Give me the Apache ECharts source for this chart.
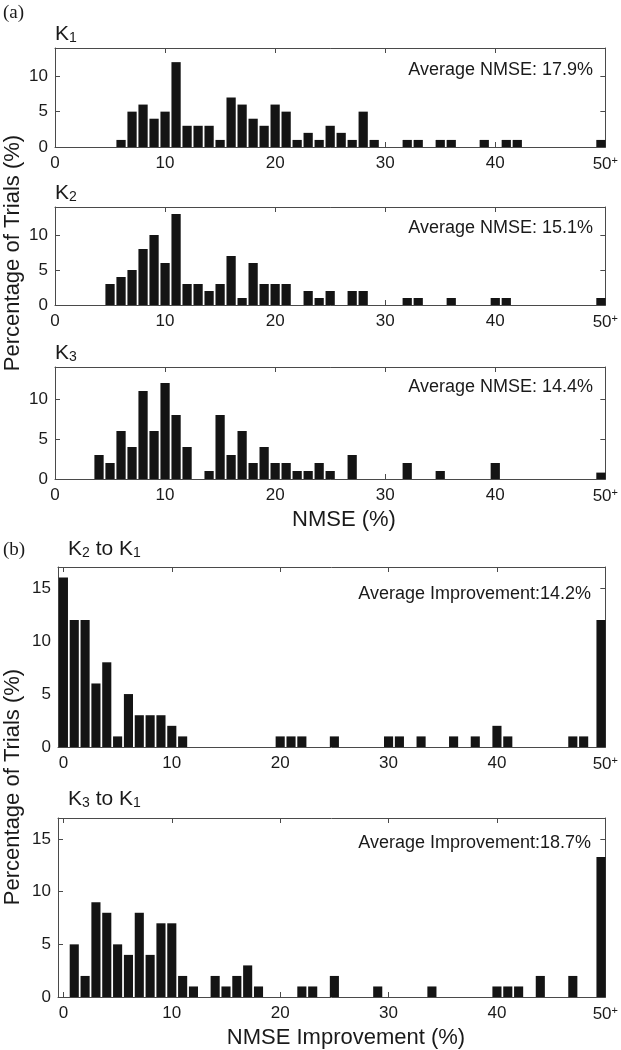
<!DOCTYPE html>
<html><head><meta charset="utf-8">
<script src="https://cdn.jsdelivr.net/npm/echarts@6/dist/echarts.min.js"></script>
<style>html,body{margin:0;padding:0;background:#fff}#c{width:621px;height:1050px}</style>
</head><body><div id="c"></div>
<script>
// ---------- data (bin = NMSE %, value = percentage of trials) ----------
const k1Bins = [6,7,8,9,10,11,12,13,14,15,16,17,18,19,20,21,22,23,24,25,26,27,28,29,32,33,35,36,39,41,42,'50+'];
const k1Vals = [1,5,6,4,5,12,3,3,3,1,7,6,4,3,6,5,1,2,1,3,2,1,5,1,1,1,1,1,1,1,1,1];

const k2Bins = [5,6,7,8,9,10,11,12,13,14,15,16,17,18,19,20,21,23,24,25,27,28,32,33,36,40,41,'50+'];
const k2Vals = [3,4,5,8,10,6,13,3,3,2,3,7,1,6,3,3,3,2,1,2,2,2,1,1,1,1,1,1];

const k3Bins = [4,5,6,7,8,9,10,11,12,14,15,16,17,18,19,20,21,22,23,24,25,27,32,35,40,'50+'];
const k3Vals = [3,2,6,4,11,6,12,8,4,1,8,3,6,2,4,2,2,1,1,2,1,3,2,1,2,0.8];

const k21Bins = [0,1,2,3,4,5,6,7,8,9,10,11,20,21,22,25,30,31,33,36,38,40,41,47,48,'50+'];
const k21Vals = [16,12,12,6,8,1,5,3,3,3,2,1,1,1,1,1,1,1,1,1,1,2,1,1,1,12];

const k31Bins = [1,2,3,4,5,6,7,8,9,10,11,12,14,15,16,17,18,22,23,25,29,34,40,41,42,44,47,'50+'];
const k31Vals = [5,2,9,8,5,4,8,4,7,7,2,1,2,1,2,3,1,1,1,2,1,1,1,1,1,2,2,13.3];

const xTicks = [0,10,20,30,40,50];
const yTicksA = [0,5,10];
const yTicksB = [0,5,10,15];
const overflowBin = 49.6;   // where the "50+" bin is drawn

const panelTitles = [['K','1'],['K','2'],['K','3'],['K','2',' to K','1'],['K','3',' to K','1']];
const avgTexts = ['Average NMSE: 17.9%','Average NMSE: 15.1%','Average NMSE: 14.4%',
                  'Average Improvement:14.2%','Average Improvement:18.7%'];

// ---------- layout ----------
const FONT = '"Liberation Sans", Arial, Helvetica, sans-serif';
const INK = '#1a1a1a';
const LINE = '#4a4a4a';
const grids = [
  {left:55, right:15, top:48, height:99},
  {left:55, right:15, top:207, height:98},
  {left:55, right:15, top:367, height:112},
  {left:58, right:12, top:567, height:180},
  {left:58, right:12, top:818, height:179}
];
const panels = [
  {bins:k1Bins, vals:k1Vals, xmin:0, ymax:14, yt:yTicksA},
  {bins:k2Bins, vals:k2Vals, xmin:0, ymax:14, yt:yTicksA},
  {bins:k3Bins, vals:k3Vals, xmin:0, ymax:14, yt:yTicksA},
  {bins:k21Bins, vals:k21Vals, xmin:-0.5, ymax:17, yt:yTicksB},
  {bins:k31Bins, vals:k31Vals, xmin:-0.5, ymax:17, yt:yTicksB}
];

const xAxes = [], yAxes = [], series = [];
panels.forEach((p, i) => {
  const common = {
    gridIndex:i, type:'value', min:p.xmin, max:50,
    axisLine:{show:true, onZero:false, lineStyle:{color:LINE, width:1}},
    axisTick:{show:true, inside:true, length:5, customValues:xTicks, lineStyle:{color:LINE}},
    splitLine:{show:false}
  };
  xAxes.push(Object.assign({}, common, {
    position:'bottom',
    axisLabel:{show:true, customValues:xTicks, margin:8, color:INK, fontFamily:FONT, fontSize:17,
      formatter: v => v === 50 ? '{n|50}{p|+}' : String(v),
      rich:{n:{fontFamily:FONT, fontSize:17, color:INK, lineHeight:18},
            p:{fontFamily:FONT, fontSize:11, color:INK, verticalAlign:'top', lineHeight:10}}}
  }));
  xAxes.push(Object.assign({}, common, {position:'top', axisLabel:{show:false}}));
  const ycommon = {
    gridIndex:i, type:'value', min:0, max:p.ymax,
    axisLine:{show:true, onZero:false, lineStyle:{color:LINE, width:1}},
    axisTick:{show:true, inside:true, length:5, customValues:p.yt, lineStyle:{color:LINE}},
    splitLine:{show:false}
  };
  yAxes.push(Object.assign({}, ycommon, {
    position:'left',
    axisLabel:{show:true, customValues:p.yt, margin:7, color:INK, fontFamily:FONT, fontSize:17}
  }));
  yAxes.push(Object.assign({}, ycommon, {position:'right', axisLabel:{show:false}}));
  series.push({
    type:'bar', xAxisIndex:2*i, yAxisIndex:2*i, barWidth:'84%', clip:true,
    itemStyle:{color:'#141414'}, silent:true, animation:false,
    data: p.bins.map((b, j) => [b === '50+' ? overflowBin : b, p.vals[j]])
  });
});

function titleRich(parts) {
  let s = '';
  parts.forEach((t, k) => { s += (k % 2 === 0) ? '{k|' + t + '}' : '{s|' + t + '}'; });
  return s;
}
const titleRichStyle = {
  k:{fontFamily:FONT, fontSize:21, fill:INK, lineHeight:24, verticalAlign:'bottom'},
  s:{fontFamily:FONT, fontSize:14, fill:INK, lineHeight:24, verticalAlign:'bottom'}
};
const titlePos = [[55,24],[55,183],[55,343],[68,539],[68,789]];
const avgPos = [[593,70],[593,228],[593,387],[591,594],[591,843]];

const graphics = [];
titlePos.forEach((pos, i) => {
  graphics.push({type:'text', left:pos[0], top:pos[1],
    style:{text:titleRich(panelTitles[i]), rich:titleRichStyle, fill:INK}});
});
avgPos.forEach((pos, i) => {
  graphics.push({type:'text', x:pos[0], y:pos[1],
    style:{text:avgTexts[i], font:'18px ' + FONT, fill:INK, align:'right', verticalAlign:'middle'}});
});
graphics.push({type:'text', x:3, y:13, style:{text:'(a)', font:'19px "Liberation Serif", "Times New Roman", serif', fill:INK, verticalAlign:'middle'}});
graphics.push({type:'text', x:3, y:550, style:{text:'(b)', font:'19px "Liberation Serif", "Times New Roman", serif', fill:INK, verticalAlign:'middle'}});
graphics.push({type:'text', x:344, y:520, style:{text:'NMSE (%)', font:'22px ' + FONT, fill:INK, align:'center', verticalAlign:'middle'}});
graphics.push({type:'text', x:346, y:1038, style:{text:'NMSE Improvement (%)', font:'22px ' + FONT, fill:INK, align:'center', verticalAlign:'middle'}});
graphics.push({type:'text', x:13, y:253, rotation:Math.PI/2, style:{text:'Percentage of Trials (%)', font:'22px ' + FONT, fill:INK, align:'center', verticalAlign:'middle'}});
graphics.push({type:'text', x:13, y:787, rotation:Math.PI/2, style:{text:'Percentage of Trials (%)', font:'22px ' + FONT, fill:INK, align:'center', verticalAlign:'middle'}});

const chart = echarts.init(document.getElementById('c'), null, {renderer:'canvas'});
chart.setOption({
  animation:false,
  backgroundColor:'#ffffff',
  grid:grids,
  xAxis:xAxes,
  yAxis:yAxes,
  series:series,
  graphic:graphics
});
</script>
</body></html>
